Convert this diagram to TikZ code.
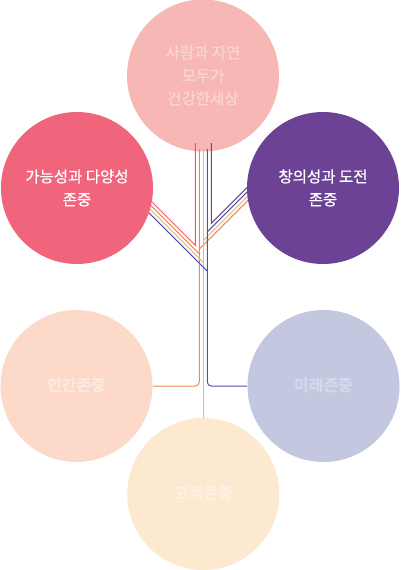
\documentclass[tikz,border=0pt]{standalone}
\usepackage{fontspec}
\setmainfont{Noto Sans CJK KR}
\newfontfamily\krmed{Noto Sans CJK KR}[FakeBold=0.8]
\definecolor{cTop}{HTML}{F7B7B5}
\definecolor{cTopTxt}{HTML}{FBD5D3}
\definecolor{cRed}{HTML}{F0647C}
\definecolor{cPur}{HTML}{6C4294}
\definecolor{cPeach}{HTML}{FDD9CA}
\definecolor{cPeachTxt}{HTML}{FEE9E0}
\definecolor{cLav}{HTML}{C4C7E0}
\definecolor{cLavTxt}{HTML}{D5D8EA}
\definecolor{cCream}{HTML}{FDE8D0}
\definecolor{cCreamTxt}{HTML}{FEF1E3}
\definecolor{lRed}{HTML}{E8566F}
\definecolor{lOr}{HTML}{F4874F}
\definecolor{lLt}{HTML}{F5B274}
\definecolor{lBlue}{HTML}{4B55A8}
\definecolor{lPur}{HTML}{6B4596}
\pgfdeclarelayer{bottom}
\pgfdeclarelayer{lines}
\pgfsetlayers{bottom,lines,main}
\tikzset{
  bub/.style={circle, minimum size=152pt, inner sep=0pt, align=center},
  toptext/.style={font=\krmed\fontsize{15.5}{23}\selectfont},
  lowtext/.style={font=\bfseries\fontsize{16}{20}\selectfont},
  wire/.style={line width=1pt}
}
\begin{document}
\begin{tikzpicture}[x=1pt,y=-1pt]
\useasboundingbox (0,0) rectangle (400,570);
\begin{pgfonlayer}{bottom}
\node[bub, toptext, fill=cTop, text=cTopTxt] (T) at (203,75.5) {사람과 자연\\모두가\\건강한세상};
\end{pgfonlayer}
\node[bub, toptext, fill=cRed, text=white] (L) at (77,188) {가능성과 다양성\\존중};
\node[bub, toptext, fill=cPur, text=white] (R) at (323,188) {창의성과 도전\\존중};
\node[bub, lowtext, fill=cPeach, text=cPeachTxt] (P) at (76.5,386) {인간존중};
\node[bub, lowtext, fill=cLav, text=cLavTxt] (V) at (323.5,386) {미래존중};
\node[bub, lowtext, fill=cCream, text=cCreamTxt] (C) at (203.3,494) {고객존중};
% junction coordinates
\coordinate (rTop) at (195.3,143);
\coordinate (rJ) at (195.3,245.3);
\coordinate (rL) at (135.3,185.3);
\coordinate (pTop) at (211.3,143);
\coordinate (pJ) at (211.3,223.3);
\coordinate (pR) at (266.3,168.3);
\coordinate (oTop) at (199.3,149);
\coordinate (oJL) at (199.3,253.9);
\coordinate (oL) at (137.3,191.9);
\coordinate (oJR) at (199.3,249.1);
\coordinate (oR) at (269.3,179.1);
\coordinate (lTop) at (203.3,149);
\coordinate (lJL) at (203.3,262.5);
\coordinate (lL) at (138.3,197.5);
\coordinate (lJR) at (203.3,240.5);
\coordinate (lR) at (268.3,175.5);
\coordinate (bTop) at (207.3,149);
\coordinate (bJL) at (207.3,271.1);
\coordinate (bL) at (137.3,201.1);
\coordinate (bJR) at (207.3,231.9);
\coordinate (bR) at (267.3,171.9);
\begin{pgfonlayer}{lines}
\draw[wire, lRed] (rTop) -- (rJ) -- (rL);
\draw[wire, lPur] (pTop) -- (pJ) -- (pR);
\draw[wire, lOr, rounded corners=4pt] (oTop) |- (P.east);
\draw[wire, lOr] (oJL) -- (oL);
\draw[wire, lOr] (oJR) -- (oR);
\draw[wire, lLt] (lTop) -- (C.north);
\draw[wire, lLt] (lJL) -- (lL);
\draw[wire, lLt] (lJR) -- (lR);
\draw[wire, lBlue, rounded corners=4pt] (bTop) |- (V.west);
\draw[wire, lBlue] (bJL) -- (bL);
\draw[wire, lBlue] (bJR) -- (bR);
\end{pgfonlayer}
\end{tikzpicture}
\end{document}
